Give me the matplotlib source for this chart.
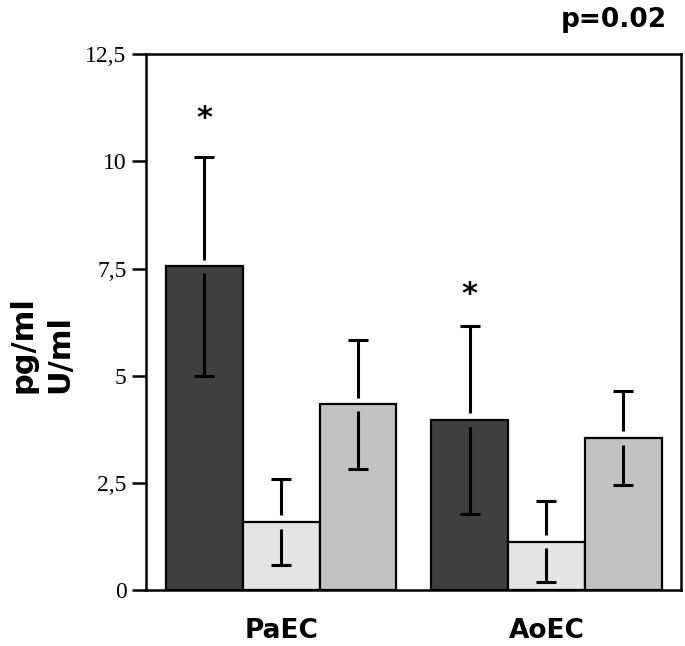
import numpy as np
import matplotlib
matplotlib.use("Agg")
import matplotlib.pyplot as plt

# Data (means and SD, pg/ml or U/ml)
groups = ["PaEC", "AoEC"]
dark_vals = [7.55, 3.97]
dark_errs = [2.55, 2.2]
light_vals = [1.58, 1.13]
light_errs = [1.0, 0.95]
gray_vals = [4.33, 3.55]
gray_errs = [1.5, 1.1]
star_heights = [11.0, 6.9]   # where the asterisks sit

yticks = [0, 2.5, 5, 7.5, 10, 12.5]
ytick_labels = ["0", "2,5", "5", "7,5", "10", "12,5"]

colors = ["#3f3f3f", "#e4e4e4", "#c2c2c2"]

fig = plt.figure(figsize=(6.85, 6.46), dpi=100)
ax = fig.add_axes([0.213, 0.0867, 0.781, 0.8293])

group_x = np.array([0, 3.45])
width = 1.0
gap = 0.16  # white gap where the error line meets the bar top

series = [(dark_vals, dark_errs), (light_vals, light_errs), (gray_vals, gray_errs)]
for i, (vals, errs) in enumerate(series):
    xs = group_x + (i - 1) * width
    vals = np.array(vals)
    errs = np.array(errs)
    ax.bar(xs, vals, width=width, color=colors[i], edgecolor="black",
           linewidth=1.6, zorder=2)
    # error lines, split at the bar top
    ax.vlines(xs, vals + gap, vals + errs, color="black", linewidth=2.2, zorder=3)
    ax.vlines(xs, vals - errs, vals - gap, color="black", linewidth=2.2, zorder=3)
    ax.plot(xs, vals + errs, ls="none", marker="_", markersize=13.7,
            mew=2.2, color="black", zorder=3)
    ax.plot(xs, vals - errs, ls="none", marker="_", markersize=13.7,
            mew=2.2, color="black", zorder=3)

# asterisks above the dark bars
for gx, sh in zip(group_x, star_heights):
    ax.text(gx - width, sh, "*", ha="center", va="center", fontsize=22,
            fontweight="bold", color="black")

ax.set_xlim(-1.76, 5.2)
ax.set_ylim(0, 12.5)

ax.set_yticks(yticks)
ax.set_yticklabels(ytick_labels, fontfamily="Liberation Serif", fontsize=17)
ax.tick_params(axis="y", length=10, width=1.8, pad=4, direction="out")

ax.set_xticks(group_x)
ax.set_xticklabels(groups, fontsize=19, fontweight="bold")
ax.tick_params(axis="x", length=0, pad=20)

for sp in ax.spines.values():
    sp.set_linewidth(1.8)

# y axis label, two stacked lines
fig.text(0.0467, 0.3916, "pg/ml", rotation=90, rotation_mode="anchor",
         ha="left", va="baseline", fontsize=22, fontweight="bold")
fig.text(0.0993, 0.3916, "U/ml", rotation=90, rotation_mode="anchor",
         ha="left", va="baseline", fontsize=22, fontweight="bold")

fig.text(0.974, 0.958, "p=0.02", ha="right", va="baseline",
         fontsize=19, fontweight="bold")

fig.savefig("out.png", dpi=100)
